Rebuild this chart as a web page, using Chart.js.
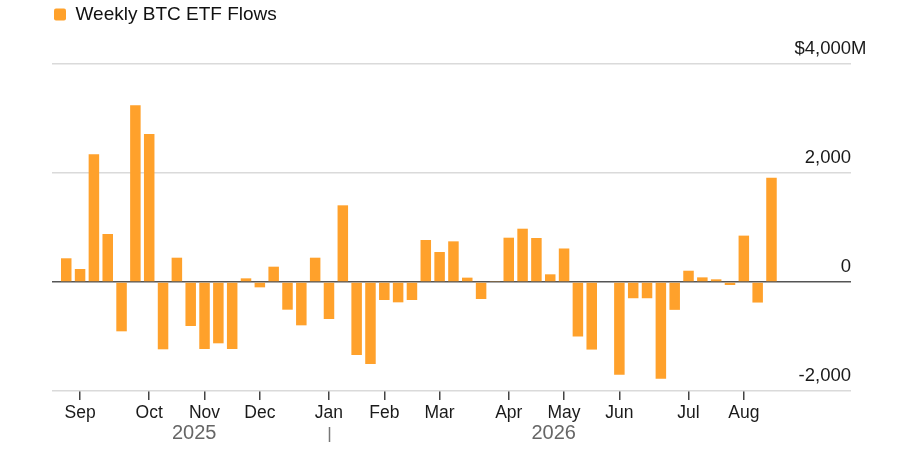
<!DOCTYPE html>
<html>
<head>
<meta charset="utf-8">
<title>Weekly BTC ETF Flows</title>
<script src="https://cdn.jsdelivr.net/npm/chart.js@4.4.1/dist/chart.umd.min.js"></script>
<style>
  html, body { margin: 0; padding: 0; background: #fff; }
  #wrap { width: 900px; height: 457px; position: relative; }
</style>
</head>
<body>
<div id="wrap"><canvas id="flows" width="900" height="457"></canvas></div>
<script>
// week starting dates
var weeks = [
  '2025-08-25','2025-09-01','2025-09-08','2025-09-15','2025-09-22','2025-09-29',
  '2025-10-06','2025-10-13','2025-10-20','2025-10-27',
  '2025-11-03','2025-11-10','2025-11-17','2025-11-24',
  '2025-12-01','2025-12-08','2025-12-15','2025-12-22','2025-12-29',
  '2026-01-05','2026-01-12','2026-01-19','2026-01-26',
  '2026-02-02','2026-02-09','2026-02-16','2026-02-23',
  '2026-03-02','2026-03-09','2026-03-16','2026-03-23','2026-03-30',
  '2026-04-06','2026-04-13','2026-04-20','2026-04-27',
  '2026-05-04','2026-05-11','2026-05-18','2026-05-25',
  '2026-06-01','2026-06-08','2026-06-15','2026-06-22','2026-06-29',
  '2026-07-06','2026-07-13','2026-07-20','2026-07-27',
  '2026-08-03','2026-08-10','2026-08-17'
];
// net flows, $M
var flows = [
  435, 239, 2343, 881, -905, 3242,
  2716, -1235, 446, -807,
  -1229, -1125, -1229, 67,
  -98, 281, -508, -795, 446,
  -679, 1407, -1340, -1505,
  -330, -373, -330, 771,
  550, 746, 80, -312, 18,
  813, 978, 807, 141,
  615, -1000, -1240, 0,
  -1702, -298, -298, -1775, -511,
  207, 85, 49, -55,
  851, -377, 1915
];
var monthLabels = ['Sep','Oct','Nov','Dec','Jan','Feb','Mar','Apr','May','Jun','Jul','Aug'];
var yearLabels = ['2025', '2026'];
var yTicks = [-2000, 0, 2000, 4000];

var FONT = "'Liberation Sans', Arial, Helvetica, sans-serif";
Chart.defaults.font.family = FONT;

// first week of each month gets a tick
var monthIdx = [];
for (var i = 1; i < weeks.length; i++) {
  if (weeks[i].substring(5, 7) != weeks[i-1].substring(5, 7)) monthIdx.push(i);
}
var yearSplit = weeks.findIndex(w => w.startsWith(yearLabels[1]));

var points = flows.map((v, i) => ({x: i, y: v}));

var legendGap = {
  id: 'legendGap',
  beforeInit(chart) {
    var fit = chart.legend.fit;
    chart.legend.fit = function() {
      fit.bind(chart.legend)();
      this.height += 30;
    };
  }
};

var extras = {
  id: 'extras',
  afterDraw(chart) {
    var ctx = chart.ctx;
    var x = chart.scales.x, y = chart.scales.y;
    ctx.save();
    // unit suffix on top label
    ctx.font = '18.5px ' + FONT;
    ctx.fillStyle = '#1a1a1a';
    ctx.textAlign = 'left';
    ctx.textBaseline = 'middle';
    ctx.fillText('M', chart.chartArea.right, y.getPixelForValue(4000) - 15);
    // year labels
    var sx = x.getPixelForValue(yearSplit);
    var a = x.getPixelForValue(-0.5), b = x.getPixelForValue(weeks.length - 0.5);
    ctx.font = '20px ' + FONT;
    ctx.fillStyle = '#666';
    ctx.textAlign = 'center';
    ctx.fillText(yearLabels[0], (a + sx) / 2, 433);
    ctx.fillText(yearLabels[1], (sx + b) / 2, 433);
    ctx.strokeStyle = '#777';
    ctx.lineWidth = 1.5;
    ctx.beginPath();
    ctx.moveTo(Math.round(sx) + 0.5, 427);
    ctx.lineTo(Math.round(sx) + 0.5, 442);
    ctx.stroke();
    ctx.restore();
  }
};

new Chart(document.getElementById('flows').getContext('2d'), {
  type: 'bar',
  data: {
    datasets: [{
      label: 'Weekly BTC ETF Flows',
      data: points,
      backgroundColor: '#FFA12B',
      borderWidth: 0,
      barPercentage: 0.76,
      categoryPercentage: 1
    }]
  },
  options: {
    responsive: false,
    animation: false,
    layout: { padding: { left: 52, right: 49, top: 3, bottom: 30 } },
    plugins: {
      legend: {
        position: 'top',
        align: 'start',
        labels: {
          boxWidth: 12,
          boxHeight: 12,
          useBorderRadius: true,
          borderRadius: 2,
          padding: 2,
          color: '#111',
          font: { size: 19 }
        }
      },
      tooltip: { enabled: false }
    },
    scales: {
      x: {
        type: 'linear',
        offset: false,
        min: -1.03,
        max: 56.75,
        afterBuildTicks: function(scale) {
          scale.ticks = monthIdx.map(v => ({value: v}));
        },
        ticks: {
          autoSkip: false,
          maxRotation: 0,
          padding: 3,
          color: '#1a1a1a',
          font: { size: 17.5 },
          callback: function(value, index) { return monthLabels[index]; }
        },
        grid: {
          offset: false,
          drawOnChartArea: false,
          drawTicks: true,
          tickLength: 9,
          color: '#444',
          lineWidth: 1.5
        },
        border: { display: false }
      },
      y: {
        position: 'right',
        min: -2000,
        max: 4000,
        afterBuildTicks: function(scale) {
          scale.ticks = yTicks.map(v => ({value: v}));
        },
        ticks: {
          mirror: true,
          padding: 0,
          labelOffset: -15,
          color: '#1a1a1a',
          font: { size: 18.5 },
          callback: function(value) {
            var s = value.toLocaleString('en-US');
            return value == 4000 ? '$' + s : s;
          }
        },
        grid: {
          drawTicks: false,
          color: ctx => ctx.tick && ctx.tick.value == 0 ? '#555' : '#dadada',
          lineWidth: 1.5
        },
        border: { display: false }
      }
    }
  },
  plugins: [legendGap, extras]
});
</script>
</body>
</html>
